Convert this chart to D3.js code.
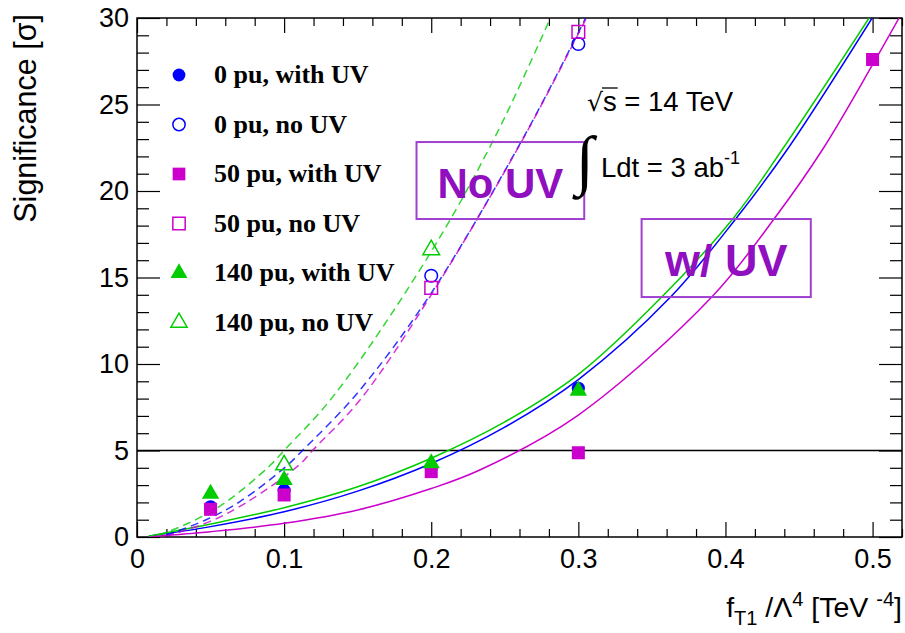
<!DOCTYPE html>
<html>
<head>
<meta charset="utf-8">
<script src="https://cdn.jsdelivr.net/npm/d3@7"></script>
<style>
  body { margin: 0; background: #fff; }
  svg { display: block; }
  .tick text { font-family: "Liberation Sans", Arial, sans-serif; font-size: 27px; fill: #000; }
</style>
</head>
<body>
<div id="chart"></div>
<script>
// markers
const pu0WithUV   = { x: [0.05, 0.1, 0.2, 0.3], y: [1.75, 2.7, 4.0, 8.6] };
const pu0NoUV     = { x: [0.2, 0.3], y: [15.1, 28.5] };
const pu50WithUV  = { x: [0.05, 0.1, 0.2, 0.3, 0.5], y: [1.6, 2.43, 3.78, 4.87, 27.6] };
const pu50NoUV    = { x: [0.2, 0.3], y: [14.4, 29.2] };
const pu140WithUV = { x: [0.05, 0.1, 0.2, 0.3], y: [2.5, 3.3, 4.26, 8.45] };
const pu140NoUV   = { x: [0.1, 0.2], y: [4.16, 16.6] };

// fitted curves
const fit0WithUV   = { x: [0.008, 0.05, 0.1, 0.15, 0.2, 0.25, 0.3, 0.363, 0.408, 0.442, 0.4997],
                       y: [0.05, 0.6, 1.46, 2.65, 4.25, 6.35, 9.1, 13.9, 18.5, 22.4, 30] };
const fit50WithUV  = { x: [0.008, 0.05, 0.1, 0.15, 0.2, 0.233, 0.3, 0.391, 0.434, 0.466, 0.5, 0.518],
                       y: [0.02, 0.31, 0.79, 1.56, 2.8, 3.87, 7.05, 13.9, 18.5, 22.4, 27.3, 30] };
const fit140WithUV = { x: [0.008, 0.05, 0.1, 0.15, 0.2, 0.25, 0.3, 0.357, 0.406, 0.4386, 0.4976],
                       y: [0.05, 0.75, 1.69, 2.9, 4.55, 6.65, 9.4, 13.9, 18.5, 22.4, 30] };
const fit0NoUV     = { x: [0.02, 0.047, 0.07, 0.1016, 0.1125, 0.1496, 0.2, 0.2634, 0.305],
                       y: [0.1, 1.0, 2.05, 4.1, 5.0, 8.3, 14.1, 23.2, 30] };
const fit50NoUV    = { x: [0.02, 0.0496, 0.0745, 0.1107, 0.1193, 0.1514, 0.2, 0.263, 0.3055],
                       y: [0.05, 0.9, 2.0, 4.2, 5.0, 7.9, 14.0, 23.1, 30] };
const fit140NoUV   = { x: [0.015, 0.04, 0.061, 0.09, 0.1, 0.134, 0.2, 0.245, 0.281],
                       y: [0.1, 1.0, 2.05, 4.1, 5.0, 8.2, 16.5, 23.4, 30] };

const legendLabels = ["0 pu, with UV", "0 pu, no UV", "50 pu, with UV", "50 pu, no UV",
                      "140 pu, with UV", "140 pu, no UV"];
const xTicks = [0, 0.1, 0.2, 0.3, 0.4, 0.5];
const yTicks = [0, 5, 10, 15, 20, 25, 30];
const discoveryLine = 5;

const blue = "#0000ff", magenta = "#cc00cc", green = "#00cc00", purple = "#9010c0";

const W = 905, H = 633;
const m = { left: 137, top: 18, right: 3, bottom: 96 };
const iw = W - m.left - m.right, ih = H - m.top - m.bottom;

const svg = d3.select("#chart").append("svg").attr("width", W).attr("height", H);
const g = svg.append("g").attr("transform", `translate(${m.left},${m.top})`);

const x = d3.scaleLinear().domain([0, 0.52]).range([0, iw]);
const y = d3.scaleLinear().domain([0, 30]).range([ih, 0]);

// axes: major + minor ticks on all four sides, pointing inward
const xMinor = d3.range(0, 0.5201, 0.02).filter(v => Math.abs(v * 10 - Math.round(v * 10)) > 1e-6);
const yMinor = d3.range(0, 31, 1).filter(v => v % 5 !== 0);
const fmtX = v => v === 0 ? "0" : d3.format(".1f")(v);

g.append("g").attr("transform", `translate(0,${ih})`)
  .call(d3.axisBottom(x).tickValues(xTicks).tickFormat(fmtX).tickSize(-15).tickPadding(12));
g.append("g").attr("transform", `translate(0,${ih})`)
  .call(d3.axisBottom(x).tickValues(xMinor).tickFormat("").tickSize(-8));
g.append("g").call(d3.axisTop(x).tickValues(xTicks).tickFormat("").tickSize(-15));
g.append("g").call(d3.axisTop(x).tickValues(xMinor).tickFormat("").tickSize(-8));
g.append("g")
  .call(d3.axisLeft(y).tickValues(yTicks).tickSize(-23).tickPadding(8));
g.append("g").call(d3.axisLeft(y).tickValues(yMinor).tickFormat("").tickSize(-12));
g.append("g").attr("transform", `translate(${iw},0)`)
  .call(d3.axisRight(y).tickValues(yTicks).tickFormat("").tickSize(-23));
g.append("g").attr("transform", `translate(${iw},0)`)
  .call(d3.axisRight(y).tickValues(yMinor).tickFormat("").tickSize(-12));
g.selectAll(".domain").remove();
g.selectAll(".tick line").attr("stroke", "#000").attr("stroke-width", 1.2);
g.selectAll(".tick text").attr("font-size", null);

g.append("rect").attr("width", iw).attr("height", ih)
  .attr("fill", "none").attr("stroke", "#000").attr("stroke-width", 1.5);

// clip for curves
svg.append("defs").append("clipPath").attr("id", "plotclip")
  .append("rect").attr("width", iw).attr("height", ih);

const plot = g.append("g").attr("clip-path", "url(#plotclip)");

plot.append("line")
  .attr("x1", x(0)).attr("x2", x(0.52))
  .attr("y1", y(discoveryLine)).attr("y2", y(discoveryLine))
  .attr("stroke", "#000").attr("stroke-width", 1.3);

const line = d3.line().x(d => x(d[0])).y(d => y(d[1])).curve(d3.curveCatmullRom.alpha(0.5));
const toPts = s => s.x.map((v, i) => [v, s.y[i]]);

const curves = [
  { s: fit0WithUV, c: blue, dash: null },
  { s: fit50WithUV, c: magenta, dash: null },
  { s: fit140WithUV, c: green, dash: null },
  { s: fit0NoUV, c: blue, dash: "8,5" },
  { s: fit50NoUV, c: magenta, dash: "8,5" },
  { s: fit140NoUV, c: green, dash: "8,5" }
];
curves.forEach(k => {
  plot.append("path").attr("d", line(toPts(k.s)))
    .attr("fill", "none").attr("stroke", k.c).attr("stroke-width", 1.5)
    .attr("stroke-dasharray", k.dash).attr("opacity", k.dash ? 0.8 : 1);
});

// markers
const series = [
  { s: pu0NoUV, c: blue, type: d3.symbolCircle, size: 125, filled: false },
  { s: pu50NoUV, c: magenta, type: d3.symbolSquare, size: 160, filled: false },
  { s: pu140NoUV, c: green, type: d3.symbolTriangle, size: 120, filled: false },
  { s: pu0WithUV, c: blue, type: d3.symbolCircle, size: 135, filled: true },
  { s: pu50WithUV, c: magenta, type: d3.symbolSquare, size: 170, filled: true },
  { s: pu140WithUV, c: green, type: d3.symbolTriangle, size: 130, filled: true }
];
series.forEach(k => {
  g.selectAll(null).data(toPts(k.s)).join("path")
    .attr("d", d3.symbol().type(k.type).size(k.size))
    .attr("transform", d => `translate(${x(d[0])},${y(d[1])})`)
    .attr("fill", k.filled ? k.c : "none")
    .attr("stroke", k.c).attr("stroke-width", k.filled ? 0 : 1.5);
});

// legend
const legendOrder = [3, 0, 4, 1, 5, 2];
const legend = svg.append("g");
legendLabels.forEach((lab, i) => {
  const k = series[legendOrder[i]];
  const cy = 75 + i * 49.5;
  legend.append("path")
    .attr("d", d3.symbol().type(k.type).size(k.size * 0.95))
    .attr("transform", `translate(179,${cy})`)
    .attr("fill", k.filled ? k.c : "none")
    .attr("stroke", k.c).attr("stroke-width", k.filled ? 0 : 1.5);
  legend.append("text").attr("x", 214).attr("y", cy + 8)
    .attr("font-family", "'Liberation Serif', 'Times New Roman', serif")
    .attr("font-weight", "bold").attr("font-size", 26)
    .text(lab);
});

// axis titles
const sans = "'Liberation Sans', Arial, sans-serif";
const xt = svg.append("text").attr("x", 902).attr("y", 617).attr("text-anchor", "end")
  .attr("font-family", sans).attr("font-size", 28.5);
xt.append("tspan").text("f");
xt.append("tspan").attr("font-size", 20).attr("dy", 8).text("T1");
xt.append("tspan").attr("dy", -8).text(" /Λ");
xt.append("tspan").attr("font-size", 20).attr("dy", -11).text("4");
xt.append("tspan").attr("dy", 11).text(" [TeV ");
xt.append("tspan").attr("font-size", 20).attr("dy", -11).text("-4");
xt.append("tspan").attr("dy", 11).text("]");

svg.append("text").attr("transform", "translate(36,14) rotate(-90)")
  .attr("text-anchor", "end").attr("font-family", sans).attr("font-size", 30.5)
  .text("Significance [σ]");

// annotations
const sq = svg.append("text").attr("x", 587).attr("y", 111)
  .attr("font-family", sans).attr("font-size", 27.5);
sq.append("tspan").attr("font-family", "'DejaVu Sans', sans-serif").attr("font-size", 25).text("√");
sq.append("tspan").text("s");
sq.append("tspan").text(" = 14 TeV");
const e1 = sq.node().getExtentOfChar(1);
svg.append("line").attr("x1", e1.x - 1).attr("x2", e1.x + e1.width + 1)
  .attr("y1", 88).attr("y2", 88).attr("stroke", "#000").attr("stroke-width", 1.3);

svg.append("text").attr("x", 576).attr("y", 182)
  .attr("font-family", "'Liberation Serif', serif").attr("font-size", 66).text("∫");
const ld = svg.append("text").attr("x", 601).attr("y", 177)
  .attr("font-family", sans).attr("font-size", 27.5);
ld.append("tspan").text("Ldt = 3 ab");
ld.append("tspan").attr("font-size", 18).attr("dy", -13).text("-1");

const boxes = [
  { label: "No UV", x0: 0.190, x1: 0.304, y0: 22.83, y1: 18.38, fs: 42 },
  { label: "w/ UV", x0: 0.343, x1: 0.458, y0: 18.38, y1: 13.87, fs: 45 }
];
boxes.forEach(b => {
  g.append("rect").attr("x", x(b.x0)).attr("y", y(b.y0))
    .attr("width", x(b.x1) - x(b.x0)).attr("height", y(b.y1) - y(b.y0))
    .attr("fill", "none").attr("stroke", "#a040d0").attr("stroke-width", 2);
  g.append("text").attr("x", (x(b.x0) + x(b.x1)) / 2).attr("y", y(b.y1) - 21)
    .attr("text-anchor", "middle").attr("font-family", sans).attr("font-weight", "bold")
    .attr("font-size", b.fs).attr("fill", purple).text(b.label);
});
</script>
</body>
</html>
